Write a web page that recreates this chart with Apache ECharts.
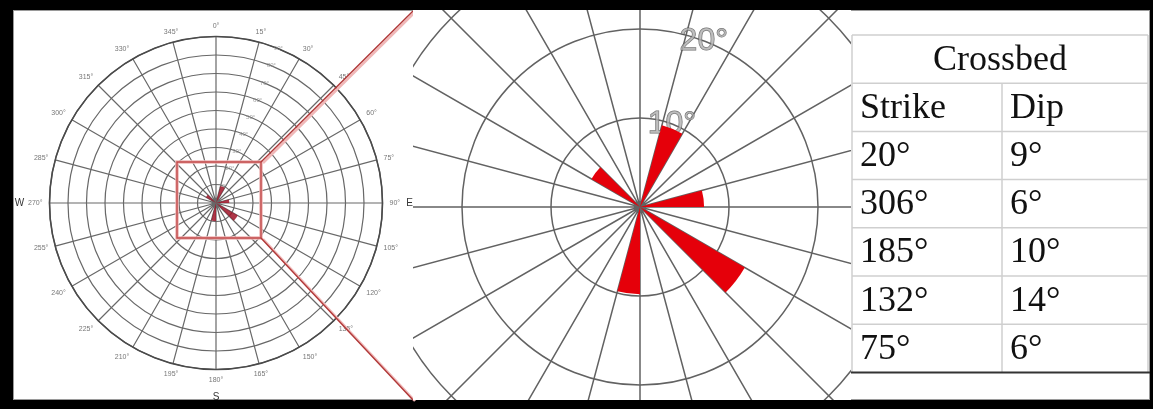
<!DOCTYPE html>
<html>
<head>
<meta charset="utf-8">
<script src="https://cdn.jsdelivr.net/npm/echarts@6/dist/echarts.min.js"></script>
<style>
  html, body { margin: 0; padding: 0; background: #fff; }
  #wrap { position: relative; width: 1153px; height: 409px; background: #000; overflow: hidden; }
  #paper { position: absolute; left: 13px; top: 10px; width: 1135px; height: 388px; background: #fff; border: 1px solid #9a9a9a; }
  #main { position: absolute; left: 0; top: 0; width: 1153px; height: 409px; }
  #zoom { position: absolute; left: 413px; top: 10px; width: 438px; height: 390px; background: #fff; }
</style>
</head>
<body>
<div id="wrap">
  <div id="paper"></div>
  <div id="main"></div>
  <div id="zoom"></div>
</div>
<script>
// crossbed readings from the table
var strikes = [20, 306, 185, 132, 75];
var dips = [9, 6, 10, 14, 6];
// petal lengths as they are drawn in the rose
var petalDips = [9.5, 6.3, 9.8, 13.6, 7.2];
var binWidth = 15;

// ring labels
var ringTicks = [10, 20, 30, 40, 50, 60, 70, 80, 90];
var zoomRingTicks = [10, 20];

var leftCenter = [216, 203];
var leftRadius = 166.5;

function petalItem(color) {
  return function (params, api) {
    var dip = api.value(0);
    var strike = api.value(1);
    var b0 = Math.floor(strike / binWidth) * binWidth;
    var c = api.coord([0, b0]);
    var p = api.coord([dip, b0]);
    var r = Math.sqrt((p[0] - c[0]) * (p[0] - c[0]) + (p[1] - c[1]) * (p[1] - c[1]));
    return {
      type: 'sector',
      shape: {
        cx: c[0], cy: c[1], r0: 0, r: r,
        startAngle: (b0 - 90) * Math.PI / 180,
        endAngle: (b0 + binWidth - 90) * Math.PI / 180,
        clockwise: true
      },
      style: { fill: color }
    };
  };
}

var petalData = petalDips.map(function (d, i) { return [d, strikes[i]]; });

function labelSeries(ticks, angle, fontSize, fill, border) {
  return {
    type: 'scatter',
    coordinateSystem: 'polar',
    symbolSize: 1,
    itemStyle: { color: 'transparent' },
    silent: true,
    data: ticks.map(function (t) { return [t, angle]; }),
    label: {
      show: true,
      position: 'inside',
      formatter: function (p) { return p.value[0] + '°'; },
      fontSize: fontSize,
      fontFamily: 'Liberation Sans',
      color: fill,
      textBorderColor: border,
      textBorderWidth: border === 'none' ? 0 : 1
    }
  };
}

// ---------- left rose + table ----------
var main = echarts.init(document.getElementById('main'));

var graphics = [];

// zoom box and connectors
graphics.push({
  type: 'rect', z: 50,
  shape: { x: 177, y: 162, width: 84, height: 76 },
  style: { fill: 'none', stroke: '#f0b8b8', lineWidth: 3.5 }
});
graphics.push({
  type: 'rect', z: 51,
  shape: { x: 177, y: 162, width: 84, height: 76 },
  style: { fill: 'none', stroke: '#c04848', lineWidth: 1.4 }
});
[[261, 162, 413, 11], [261, 238, 413, 400]].forEach(function (l) {
  graphics.push({
    type: 'line', z: 50,
    shape: { x1: l[0] + 2, y1: l[1] + 1, x2: l[2] + 2, y2: l[3] + 1 },
    style: { stroke: '#f0b8b8', lineWidth: 2.5 }
  });
  graphics.push({
    type: 'line', z: 51,
    shape: { x1: l[0], y1: l[1], x2: l[2], y2: l[3] },
    style: { stroke: '#b03838', lineWidth: 1.4 }
  });
});

// compass letters
[['W', leftCenter[0] - leftRadius - 30, leftCenter[1]],
 ['E', leftCenter[0] + leftRadius + 27, leftCenter[1]],
 ['S', leftCenter[0], 397]].forEach(function (t) {
  graphics.push({
    type: 'text', z: 60, x: t[1], y: t[2],
    style: { text: t[0], font: '10px "Liberation Sans"', fill: '#333', align: 'center', verticalAlign: 'middle' }
  });
});

// table
var tLeft = 852, tMid = 1002, tRight = 1148, tTop = 35, rowH = 48.2;
var rows = [['Strike', 'Dip']].concat(strikes.map(function (s, i) { return [s + '°', dips[i] + '°']; }));
var nRows = rows.length + 1;
var tBottom = tTop + nRows * rowH;
for (var i = 0; i < nRows; i++) {
  graphics.push({
    type: 'line', z: 20,
    shape: { x1: tLeft, y1: tTop + i * rowH, x2: tRight, y2: tTop + i * rowH },
    style: { stroke: '#cfcfcf', lineWidth: 1.5 }
  });
}
graphics.push({
  type: 'line', z: 21,
  shape: { x1: tLeft - 2, y1: tBottom, x2: 1150, y2: tBottom },
  style: { stroke: '#333', lineWidth: 2 }
});
graphics.push({
  type: 'line', z: 20,
  shape: { x1: tLeft, y1: tTop, x2: tLeft, y2: tBottom },
  style: { stroke: '#cfcfcf', lineWidth: 1.5 }
});
graphics.push({
  type: 'line', z: 20,
  shape: { x1: tRight, y1: tTop, x2: tRight, y2: tBottom },
  style: { stroke: '#cfcfcf', lineWidth: 1.5 }
});
graphics.push({
  type: 'line', z: 20,
  shape: { x1: tMid, y1: tTop + rowH, x2: tMid, y2: tBottom },
  style: { stroke: '#cfcfcf', lineWidth: 1.5 }
});
var tFont = '36px "Liberation Serif"';
graphics.push({
  type: 'text', z: 30, x: (tLeft + tRight) / 2, y: tTop + rowH / 2 + 1,
  style: { text: 'Crossbed', font: tFont, fill: '#111', align: 'center', verticalAlign: 'middle' }
});
rows.forEach(function (r, i) {
  var y = tTop + (i + 1) * rowH + rowH / 2 + 1;
  graphics.push({
    type: 'text', z: 30, x: tLeft + 8, y: y,
    style: { text: r[0], font: tFont, fill: '#111', align: 'left', verticalAlign: 'middle' }
  });
  graphics.push({
    type: 'text', z: 30, x: tMid + 8, y: y,
    style: { text: r[1], font: tFont, fill: '#111', align: 'left', verticalAlign: 'middle' }
  });
});

main.setOption({
  animation: false,
  polar: [{ center: leftCenter, radius: leftRadius }],
  angleAxis: [{
    polarIndex: 0,
    type: 'value',
    min: 0,
    max: 360,
    interval: 15,
    startAngle: 90,
    clockwise: true,
    axisLine: { lineStyle: { color: '#4a4a4a', width: 1.6 } },
    axisTick: { show: false },
    axisLabel: {
      margin: 7,
      fontSize: 7,
      color: '#777',
      formatter: function (v) { return v === 360 ? '' : v + '°'; }
    },
    splitLine: { show: true, lineStyle: { color: '#686868', width: 1.2 } }
  }],
  radiusAxis: [{
    polarIndex: 0,
    type: 'value',
    min: 0,
    max: 90,
    interval: 10,
    axisLine: { show: false },
    axisTick: { show: false },
    axisLabel: { show: false },
    splitLine: { show: true, lineStyle: { color: '#686868', width: 1.2 } }
  }],
  series: [
    {
      type: 'custom',
      coordinateSystem: 'polar',
      polarIndex: 0,
      silent: true,
      renderItem: petalItem('rgba(160,20,40,0.85)'),
      data: petalData,
      z: 10
    },
    Object.assign(labelSeries(ringTicks, 22, 6, '#888', 'none'), { polarIndex: 0 })
  ],
  graphic: graphics
});

// ---------- magnified centre ----------
var zoom = echarts.init(document.getElementById('zoom'));
zoom.setOption({
  animation: false,
  polar: [{ center: [227, 197], radius: 356 }],
  angleAxis: [{
    type: 'value',
    min: 0,
    max: 360,
    interval: 15,
    startAngle: 90,
    clockwise: true,
    axisLine: { show: false },
    axisTick: { show: false },
    axisLabel: { show: false },
    splitLine: { show: true, lineStyle: { color: '#626262', width: 1.5 } }
  }],
  radiusAxis: [{
    type: 'value',
    min: 0,
    max: 40,
    interval: 10,
    axisLine: { show: false },
    axisTick: { show: false },
    axisLabel: { show: false },
    splitLine: { show: true, lineStyle: { color: '#626262', width: 1.5 } }
  }],
  series: [
    {
      type: 'custom',
      coordinateSystem: 'polar',
      silent: true,
      renderItem: petalItem('#e5000a'),
      data: petalData,
      z: 10
    },
    Object.assign(labelSeries(zoomRingTicks, 21, 32, '#b0b0b0', '#4a4a4a'), { z: 5 })
  ]
});
</script>
</body>
</html>
